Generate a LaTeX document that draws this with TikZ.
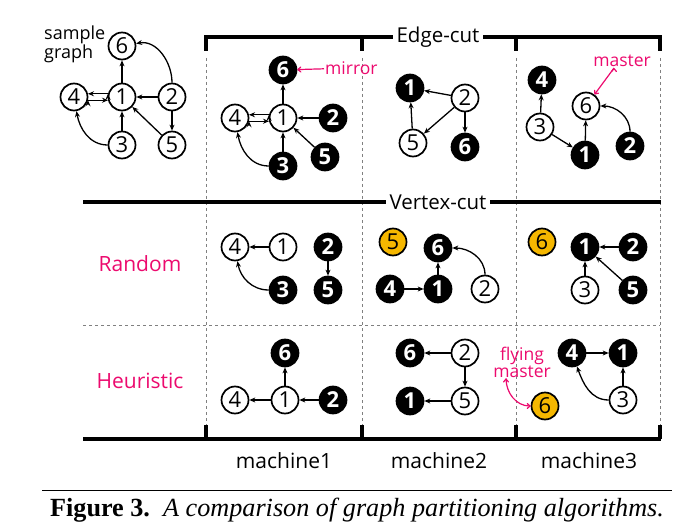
\documentclass[tikz,border=0pt]{standalone}
\usepackage{fontspec}
\setmainfont{Liberation Serif}
\newfontfamily\lblfont{Open Sans}
\usetikzlibrary{arrows.meta}

\definecolor{hotpink}{HTML}{EC0A6E}
\definecolor{gold}{HTML}{F5B700}

\tikzset{
  vtx/.style={shape=circle,draw=black,line width=1.7pt,minimum size=27pt,inner sep=0pt,font=\lblfont\fontsize{22}{22}\selectfont},
  own/.style={vtx,fill=white},
  rep/.style={vtx,fill=black,text=white,font=\lblfont\bfseries\fontsize{22}{22}\selectfont},
  fly/.style={vtx,fill=gold},
  arc/.style={-{Stealth[length=6pt,width=5pt]},draw=black,line width=1.3pt},
  note/.style={text=hotpink,inner sep=1pt,font=\lblfont\fontsize{17.5}{17}\selectfont},
  notearc/.style={-{To[length=4pt,width=6pt]},draw=hotpink,line width=1.2pt},
  rowname/.style={text=hotpink,font=\lblfont\fontsize{21}{21}\selectfont},
  heading/.style={fill=white,inner xsep=4pt,font=\lblfont\fontsize{20.5}{20}\selectfont},
  machine/.style={font=\lblfont\fontsize{21}{21}\selectfont},
  frame/.style={draw=black,line width=3.5pt},
  sep/.style={draw=gray,dashed,line width=0.8pt}
}

\begin{document}
\begin{tikzpicture}[x=1pt,y=-1pt]
\useasboundingbox (0,0) rectangle (679,529);

% grid
\draw[sep] (206,58) -- (206,425);
\draw[sep] (362,58) -- (362,425);
\draw[sep] (516,58) -- (516,425);
\draw[sep] (660,58) -- (660,425);
\draw[sep] (83,325) -- (660,325);

\draw[frame] (206,51) -- (206,37) -- (660,37) -- (660,51);
\draw[frame] (362,37) -- (362,51);
\draw[frame] (516,37) -- (516,51);
\draw[frame] (83,202) -- (661,202);
\draw[frame] (83,439) -- (661,439);
\draw[frame] (206,439) -- (206,425);
\draw[frame] (362,439) -- (362,425);
\draw[frame] (516,439) -- (516,425);
\draw[frame] (660,439) -- (660,425);

\node[heading] (edgecut) at (438,37) {Edge-cut};
\node[heading] (vertexcut) at (438,202) {Vertex-cut};

\node[rowname] (random) at (140,264) {Random};
\node[rowname] (heuristic) at (140,381) {Heuristic};

\node[machine] (m1) at (284,461) {machine1};
\node[machine] (m2) at (439,461) {machine2};
\node[machine] (m3) at (589,461) {machine3};

% sample graph
\node[anchor=west,align=left,inner sep=0pt,font=\lblfont\fontsize{18}{15}\selectfont] (sample) at (44,44) {sample\\graph};
\node[own] (s6) at (122,46) {6};
\node[own] (s4) at (74,97) {4};
\node[own] (s1) at (122,97) {1};
\node[own] (s2) at (172,97) {2};
\node[own] (s3) at (122,145) {3};
\node[own] (s5) at (172,145) {5};

\path[arc] (s1) edge (s6);
\path[arc] (s1.167) edge (s4.13);
\path[arc] (s4.-13) edge (s1.-167);
\path[arc] (s2) edge (s1);
\path[arc] (s2) edge[out=90,in=10] (s6);
\path[arc] (s2) edge (s5);
\path[arc] (s3) edge (s1);
\path[arc] (s5) edge (s1);
\path[arc] (s3) edge[out=180,in=-80] (s4);

% edge-cut, machine1
\node[rep] (e1v6) at (283,70) {6};
\node[own] (e1v4) at (235,118) {4};
\node[own] (e1v1) at (283,118) {1};
\node[rep] (e1v2) at (333,118) {2};
\node[rep] (e1v3) at (283,166) {3};
\node[rep] (e1v5) at (325,157) {5};
\node[note,anchor=west] (mirror) at (324,68) {mirror};

\path[arc] (e1v1) edge (e1v6);
\path[arc] (e1v1.167) edge (e1v4.13);
\path[arc] (e1v4.-13) edge (e1v1.-167);
\path[arc] (e1v2) edge (e1v1);
\path[arc] (e1v3) edge (e1v1);
\path[arc] (e1v5) edge (e1v1);
\path[arc] (e1v3) edge[out=180,in=-80] (e1v4);
\path[notearc] (mirror) edge (e1v6);

% edge-cut, machine2
\node[rep] (e2v1) at (410,88) {1};
\node[own] (e2v2) at (465,98) {2};
\node[own] (e2v5) at (413,143) {5};
\node[rep] (e2v6) at (465,147) {6};

\path[arc] (e2v2) edge (e2v1);
\path[arc] (e2v2) edge (e2v5);
\path[arc] (e2v2) edge (e2v6);
\path[arc] (e2v5) edge (e2v1);

% edge-cut, machine3
\node[rep] (e3v4) at (542,80) {4};
\node[own] (e3v3) at (540,127) {3};
\node[own] (e3v6) at (586,106) {6};
\node[rep] (e3v1) at (585,155) {1};
\node[rep] (e3v2) at (630,146) {2};
\node[note] (master) at (622,61) {master};

\path[arc] (e3v3) edge (e3v4);
\path[arc] (e3v3) edge (e3v1);
\path[arc] (e3v1) edge (e3v6);
\path[arc] (e3v2) edge[out=90,in=0] (e3v6);
\path[notearc] ([xshift=-8pt]master.south) edge (e3v6);

% vertex-cut random, machine1
\node[own] (r1v4) at (235,247) {4};
\node[own] (r1v1) at (283,247) {1};
\node[rep] (r1v2) at (328,247) {2};
\node[rep] (r1v3) at (283,290) {3};
\node[rep] (r1v5) at (328,290) {5};

\path[arc] (r1v1) edge (r1v4);
\path[arc] (r1v3) edge[out=180,in=-80] (r1v4);
\path[arc] (r1v2) edge (r1v5);

% vertex-cut random, machine2
\node[fly] (r2v5) at (393,242) {5};
\node[rep] (r2v6) at (438,248) {6};
\node[rep] (r2v4) at (390,289) {4};
\node[rep] (r2v1) at (438,289) {1};
\node[own] (r2v2) at (485,289) {2};

\path[arc] (r2v4) edge (r2v1);
\path[arc] (r2v1) edge (r2v6);
\path[arc] (r2v2) edge[out=90,in=0] (r2v6);

% vertex-cut random, machine3
\node[fly] (r3v6) at (542,242) {6};
\node[rep] (r3v1) at (585,247) {1};
\node[rep] (r3v2) at (633,247) {2};
\node[own] (r3v3) at (585,290) {3};
\node[rep] (r3v5) at (633,290) {5};

\path[arc] (r3v2) edge (r3v1);
\path[arc] (r3v3) edge (r3v1);
\path[arc] (r3v5) edge (r3v1);

% vertex-cut heuristic, machine1
\node[rep] (h1v6) at (285,353) {6};
\node[own] (h1v4) at (235,400) {4};
\node[own] (h1v1) at (285,400) {1};
\node[rep] (h1v2) at (333,400) {2};

\path[arc] (h1v1) edge (h1v6);
\path[arc] (h1v1) edge (h1v4);
\path[arc] (h1v2) edge (h1v1);

% vertex-cut heuristic, machine2
\node[rep] (h2v6) at (410,353) {6};
\node[own] (h2v2) at (465,353) {2};
\node[rep] (h2v1) at (410,401) {1};
\node[own] (h2v5) at (465,401) {5};

\path[arc] (h2v2) edge (h2v6);
\path[arc] (h2v2) edge (h2v5);
\path[arc] (h2v5) edge (h2v1);

% vertex-cut heuristic, machine3
\node[rep] (h3v4) at (572,353) {4};
\node[rep] (h3v1) at (623,353) {1};
\node[own] (h3v3) at (623,400) {3};
\node[fly] (h3v6) at (545,406) {6};
\node[note,align=center] (flying) at (522,362) {flying\\master};

\path[arc] (h3v4) edge (h3v1);
\path[arc] (h3v3) edge (h3v1);
\path[arc] (h3v3) edge[out=180,in=-70] (h3v4);
\path[notearc] ([xshift=-16pt]flying.south) edge[out=-90,in=180] (h3v6);

% caption
\draw[line width=0.8pt] (42,490) -- (672,490);
\node[font=\fontsize{26.2}{26.2}\selectfont] (caption) at (357,510) {\textbf{Figure 3.}\ \ \textit{A comparison of graph partitioning algorithms.}};
\end{tikzpicture}
\end{document}
